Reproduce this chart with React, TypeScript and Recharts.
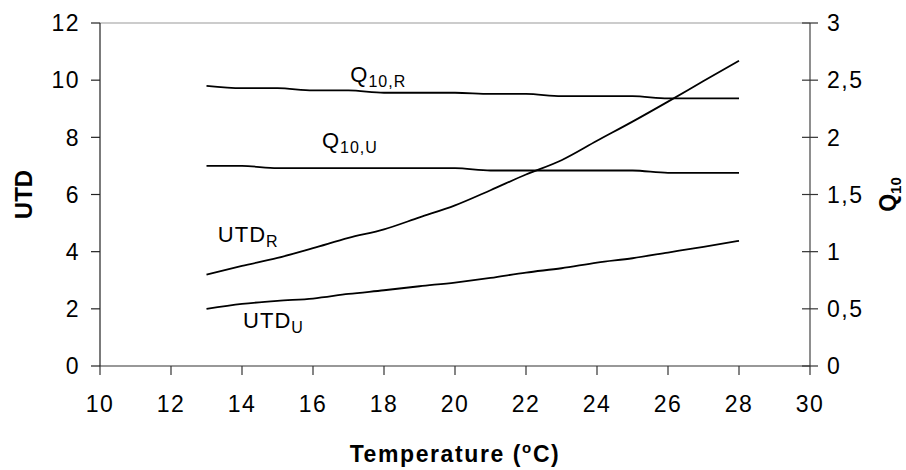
import React from "react"
import { LineChart, Line, XAxis, YAxis, ReferenceLine, ReferenceDot } from "recharts"

const FONT = '"Liberation Sans", Arial, Helvetica, sans-serif'

// temperature (°C)
const temperatures = [13, 14, 15, 16, 17, 18, 19, 20, 21, 22, 23, 24, 25, 26, 27, 28]
// left axis: UTD
const utdR = [3.2, 3.5, 3.78, 4.12, 4.48, 4.78, 5.2, 5.62, 6.15, 6.7, 7.2, 7.88, 8.55, 9.25, 9.97, 10.68]
const utdU = [2.0, 2.17, 2.28, 2.36, 2.52, 2.65, 2.79, 2.92, 3.08, 3.27, 3.42, 3.62, 3.77, 3.97, 4.17, 4.38]
// right axis: Q10
const q10R = [2.45, 2.43, 2.43, 2.41, 2.41, 2.39, 2.39, 2.39, 2.38, 2.38, 2.36, 2.36, 2.36, 2.34, 2.34, 2.34]
const q10U = [1.75, 1.75, 1.73, 1.73, 1.73, 1.73, 1.73, 1.73, 1.71, 1.71, 1.71, 1.71, 1.71, 1.69, 1.69, 1.69]

const xTicks = [10, 12, 14, 16, 18, 20, 22, 24, 26, 28, 30]
const utdTicks = [0, 2, 4, 6, 8, 10, 12]
const q10Ticks = [0, 0.5, 1, 1.5, 2, 2.5, 3]

// series name tags, placed in data coordinates (left axis)
const tags = [
  { main: "Q", sub: "10,R", t: 17.05, v: 9.93 },
  { main: "Q", sub: "10,U", t: 16.25, v: 7.62 },
  { main: "UTD", sub: "R", t: 13.32, v: 4.34 },
  { main: "UTD", sub: "U", t: 14.03, v: 1.33 },
]

const data = temperatures.map((t, i) => ({
  t,
  utdR: utdR[i],
  utdU: utdU[i],
  q10R: q10R[i],
  q10U: q10U[i],
}))

const fmt = (v: number) => String(v).replace(".", ",")

function LeftTick(props: any) {
  const { x, y, payload } = props
  return (
    <text x={x} y={y} dy="0.36em" textAnchor="end" fontFamily={FONT} fontSize={23} fill="#000" letterSpacing={1.5}>
      {fmt(payload.value)}
    </text>
  )
}

function BottomTick(props: any) {
  const { x, y, payload } = props
  return (
    <text x={x} y={y} dy="0.71em" textAnchor="middle" fontFamily={FONT} fontSize={23} fill="#000" letterSpacing={1.5}>
      {fmt(payload.value)}
    </text>
  )
}

function RightTick(props: any) {
  const { x, y, payload } = props
  return (
    <g>
      <line x1={x - 25} x2={x - 9} y1={y} y2={y} stroke="#333" strokeWidth={1.2} />
      <text x={x} y={y} dy="0.36em" textAnchor="start" fontFamily={FONT} fontSize={23} fill="#000" letterSpacing={1.5}>
        {fmt(payload.value)}
      </text>
    </g>
  )
}

function tagLabel(main: string, sub: string) {
  return (props: any) => {
    const vb = props.viewBox || {}
    return (
      <text x={vb.x} y={vb.y} fontFamily={FONT} fontSize={22} fill="#000" letterSpacing={1}>
        {main}
        <tspan fontSize={16} dy={5}>{sub}</tspan>
      </text>
    )
  }
}

function UtdAxisLabel(props: any) {
  const vb = props.viewBox || { x: 0, y: 23, width: 100, height: 343 }
  const cx = vb.x + 23
  const cy = vb.y + vb.height / 2
  return (
    <text x={cx} y={cy} transform={`rotate(-90 ${cx} ${cy})`} textAnchor="middle" dy="0.36em"
      fontFamily={FONT} fontSize={24} fontWeight="bold" fill="#000">
      UTD
    </text>
  )
}

function Q10AxisLabel(props: any) {
  const vb = props.viewBox || { x: 810, y: 23, width: 96, height: 343 }
  const cx = vb.x + 78
  const cy = vb.y + vb.height / 2
  return (
    <text x={cx} y={cy} transform={`rotate(-90 ${cx} ${cy})`} textAnchor="middle" dy="0.36em"
      fontFamily={FONT} fontSize={23} fontWeight="bold" fill="#000">
      Q<tspan fontSize={15} dy={5}>10</tspan>
    </text>
  )
}

function TempAxisLabel(props: any) {
  const vb = props.viewBox || { x: 100, y: 366, width: 710, height: 104 }
  const cx = vb.x + vb.width / 2
  const by = vb.y + 96
  return (
    <text x={cx} y={by} textAnchor="middle" fontFamily={FONT} fontSize={23} fontWeight="bold" fill="#000" letterSpacing={1.6}>
      Temperature (<tspan fontSize={15} dy={-9}>o</tspan><tspan dy={9}>C)</tspan>
    </text>
  )
}

export default function App() {
  return (
    <div style={{ position: "absolute", left: 0, top: 0, background: "#fff" }}>
      <LineChart width={906} height={470} data={data} margin={{ top: 23, right: 0, bottom: 0, left: 0 }}>
        <XAxis
          dataKey="t"
          type="number"
          domain={[10, 30]}
          ticks={xTicks}
          interval={0}
          height={104}
          tickSize={9}
          tickMargin={21}
          tick={<BottomTick />}
          axisLine={{ stroke: "#333", strokeWidth: 1.2 }}
          tickLine={{ stroke: "#333", strokeWidth: 1.2 }}
          label={{ content: (p: any) => <TempAxisLabel {...p} /> }}
        />
        <YAxis
          yAxisId="left"
          domain={[0, 12]}
          ticks={utdTicks}
          interval={0}
          width={100}
          tickSize={9}
          tickMargin={11}
          tick={<LeftTick />}
          axisLine={{ stroke: "#222", strokeWidth: 1.2 }}
          tickLine={{ stroke: "#222", strokeWidth: 1.2 }}
          label={{ content: (p: any) => <UtdAxisLabel {...p} /> }}
        />
        <YAxis
          yAxisId="right"
          orientation="right"
          domain={[0, 3]}
          ticks={q10Ticks}
          interval={0}
          width={96}
          tickSize={8}
          tickMargin={9}
          tick={<RightTick />}
          tickLine={false}
          axisLine={{ stroke: "#444", strokeWidth: 1.2 }}
          label={{ content: (p: any) => <Q10AxisLabel {...p} /> }}
        />
        <ReferenceLine yAxisId="left" y={12} stroke="#999" strokeWidth={1.2} />
        <Line yAxisId="left" dataKey="utdR" type="monotone" stroke="#000" strokeWidth={1.8} dot={false} isAnimationActive={false} />
        <Line yAxisId="left" dataKey="utdU" type="monotone" stroke="#000" strokeWidth={1.8} dot={false} isAnimationActive={false} />
        <Line yAxisId="right" dataKey="q10R" type="monotone" stroke="#000" strokeWidth={1.8} dot={false} isAnimationActive={false} />
        <Line yAxisId="right" dataKey="q10U" type="monotone" stroke="#000" strokeWidth={1.8} dot={false} isAnimationActive={false} />
        {tags.map((g) => (
          <ReferenceDot
            key={g.main + g.sub}
            yAxisId="left"
            x={g.t}
            y={g.v}
            r={0}
            stroke="none"
            fill="none"
            label={tagLabel(g.main, g.sub)}
          />
        ))}
      </LineChart>
    </div>
  )
}
